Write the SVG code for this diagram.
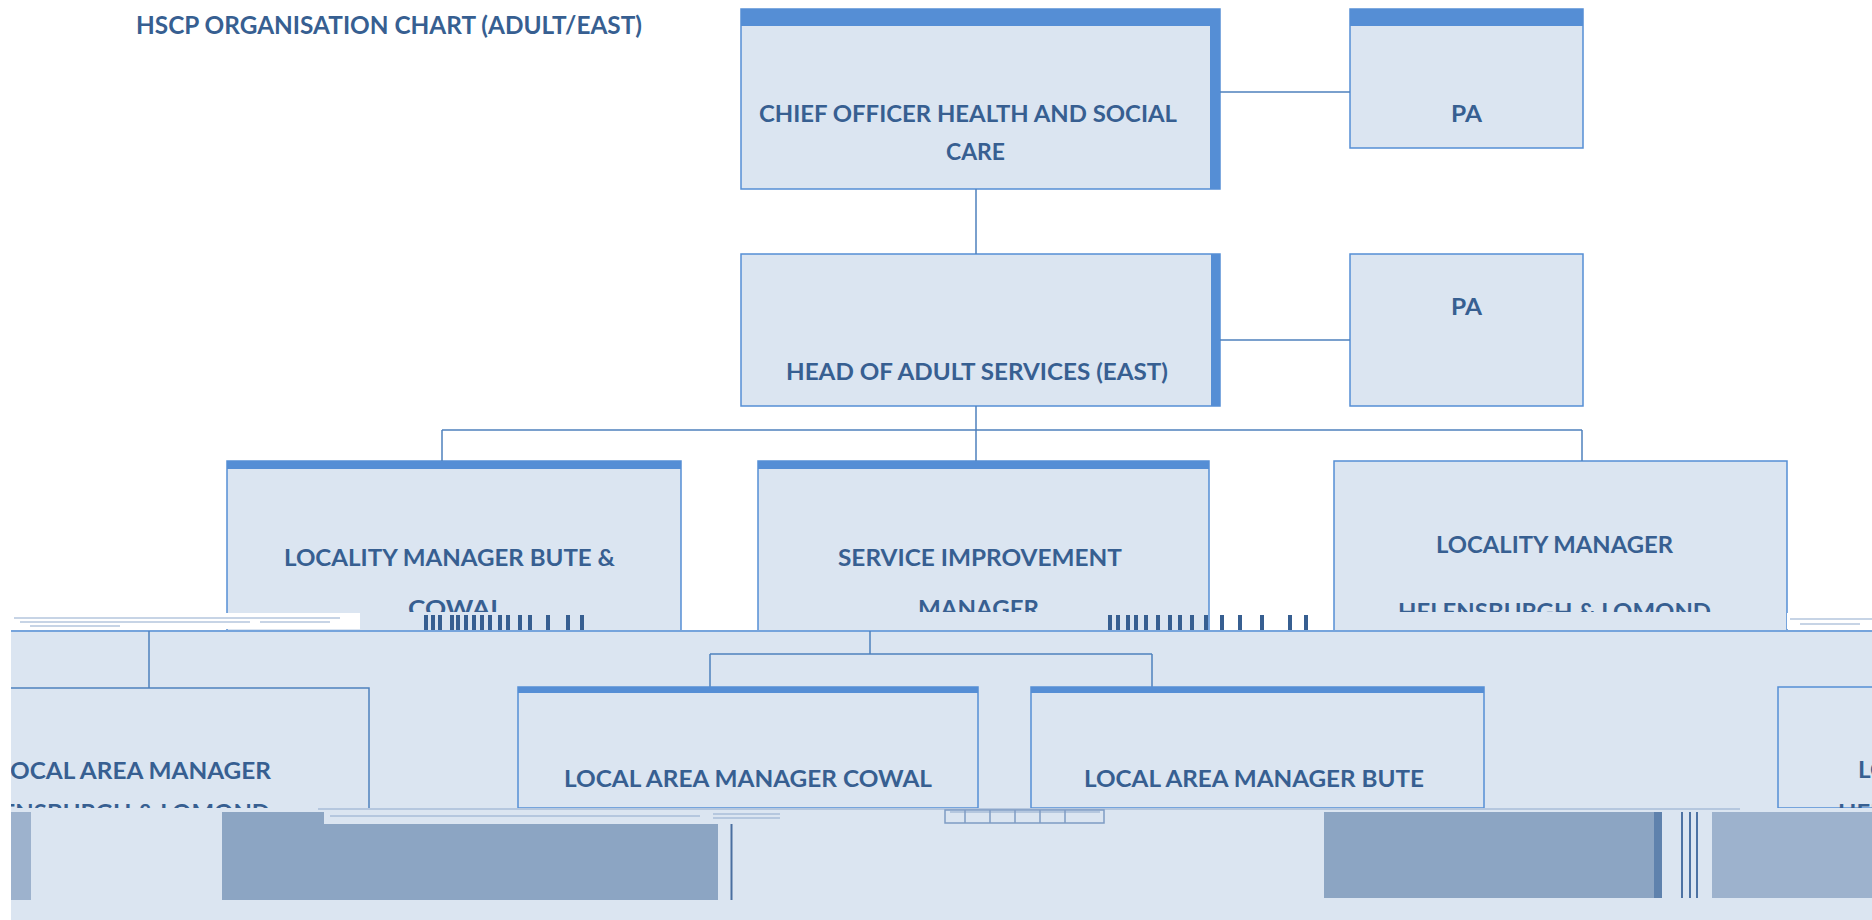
<svg xmlns="http://www.w3.org/2000/svg" width="1872" height="920" viewBox="0 0 1872 920">
<defs>
<style>
.box{fill:#dbe5f1;stroke:#558ed5;stroke-width:1.5}
.bar{fill:#558ed5}
.t{font-family:Lato,'Liberation Sans',sans-serif;font-weight:700;font-size:23px;fill:#375f91}
.title{font-family:Lato,'Liberation Sans',sans-serif;font-weight:700;font-size:25px;fill:#375f91}
.con{fill:none;stroke:#4f81bd;stroke-width:1.5}
.dark{fill:#8ca5c3}
.light{fill:#9db2cd}
.noise{fill:none;stroke:#8fa9cc;stroke-width:1}
</style>
<clipPath id="row1"><rect x="0" y="0" width="1872" height="612"/></clipPath>
<clipPath id="row2"><rect x="11" y="0" width="1861" height="810"/></clipPath>
</defs>
<rect x="0" y="0" width="1872" height="920" fill="#ffffff"/>
<text class="title" x="136" y="34" textLength="506" lengthAdjust="spacingAndGlyphs">HSCP ORGANISATION CHART (ADULT/EAST)</text>

<g id="chief">
<rect class="box" x="741" y="9" width="479" height="180"/>
<rect class="bar" x="741" y="9" width="479" height="17"/>
<rect class="bar" x="1210" y="9" width="10" height="180"/>
<text class="t" x="759" y="122" textLength="418" lengthAdjust="spacingAndGlyphs">CHIEF OFFICER HEALTH AND SOCIAL</text>
<text class="t" x="946" y="160" textLength="59" lengthAdjust="spacingAndGlyphs">CARE</text>
</g>
<g id="pa1">
<rect class="box" x="1350" y="9" width="233" height="139"/>
<rect class="bar" x="1350" y="9" width="233" height="17"/>
<text class="t" x="1451" y="122" textLength="31" lengthAdjust="spacingAndGlyphs">PA</text>
</g>
<g id="head">
<rect class="box" x="741" y="254" width="479" height="152"/>
<rect class="bar" x="1211" y="254" width="9" height="152"/>
<text class="t" x="786" y="380" textLength="382" lengthAdjust="spacingAndGlyphs">HEAD OF ADULT SERVICES (EAST)</text>
</g>
<g id="pa2">
<rect class="box" x="1350" y="254" width="233" height="152"/>
<text class="t" x="1451" y="315" textLength="31" lengthAdjust="spacingAndGlyphs">PA</text>
</g>
<g id="locality-bute-cowal">
<rect class="box" x="227" y="461" width="454" height="170"/>
<rect class="bar" x="227" y="461" width="454" height="8"/>
<text class="t" x="284" y="566" textLength="331" lengthAdjust="spacingAndGlyphs">LOCALITY MANAGER BUTE &amp;</text>
<text class="t" x="408" y="617" textLength="96" lengthAdjust="spacingAndGlyphs" clip-path="url(#row1)">COWAL</text>
</g>
<g id="service-improvement">
<rect class="box" x="758" y="461" width="451" height="170"/>
<rect class="bar" x="758" y="461" width="451" height="8"/>
<text class="t" x="838" y="566" textLength="284" lengthAdjust="spacingAndGlyphs">SERVICE IMPROVEMENT</text>
<text class="t" x="918" y="617" textLength="121" lengthAdjust="spacingAndGlyphs" clip-path="url(#row1)">MANAGER</text>
</g>
<g id="locality-helensburgh">
<rect class="box" x="1334" y="461" width="453" height="170"/>
<text class="t" x="1436" y="553" textLength="237" lengthAdjust="spacingAndGlyphs">LOCALITY MANAGER</text>
<text class="t" x="1398" y="620" textLength="313" lengthAdjust="spacingAndGlyphs" clip-path="url(#row1)">HELENSBURGH &amp; LOMOND</text>
</g>

<g id="glitch-upper">
<rect x="11" y="613" width="349" height="16" fill="#ffffff"/>
<path class="noise" d="M14 618 H340 M20 622 H250 M260 622 H330 M30 626 H120"/>
<rect x="1787" y="613" width="85" height="16" fill="#ffffff"/>
<path class="noise" d="M1790 619 H1872 M1800 624 H1860"/>
<path d="M426 615 V631 M433 615 V631 M440 615 V631 M452 615 V631 M458 615 V631 M466 615 V631 M474 615 V631 M482 615 V631 M490 615 V631 M500 615 V631 M508 615 V631 M520 615 V631 M530 615 V631 M548 615 V631 M568 615 V631 M582 615 V631" stroke="#375f91" stroke-width="4" fill="none"/>
<path d="M1110 615 V631 M1118 615 V631 M1128 615 V631 M1136 615 V631 M1146 615 V631 M1158 615 V631 M1170 615 V631 M1180 615 V631 M1192 615 V631 M1206 615 V631 M1222 615 V631 M1240 615 V631 M1262 615 V631 M1290 615 V631 M1306 615 V631" stroke="#375f91" stroke-width="4" fill="none"/>
</g>

<rect id="lower-area" x="11" y="630" width="1861" height="290" fill="#dbe5f1"/>
<line x1="11" y1="631" x2="1872" y2="631" stroke="#558ed5" stroke-width="1.5"/>

<g id="connectors">
<path class="con" d="M976 189 V254 M1220 92 H1350 M1220 340 H1350 M976 406 V430 M442 430 H1582 M442 430 V461 M976 430 V461 M1582 430 V461 M149 631 V688 M870 631 V654 M710 654 H1152 M710 654 V687 M1152 654 V687"/>
</g>

<g id="local-helensburgh">
<rect x="11" y="688" width="358" height="120" fill="#dbe5f1"/>
<path class="con" d="M11 688 H369 V808" stroke="#558ed5"/>
<g clip-path="url(#row2)">
<text class="t" x="-2" y="779" textLength="273" lengthAdjust="spacingAndGlyphs">LOCAL AREA MANAGER</text>
<text class="t" x="-43" y="821" textLength="313" lengthAdjust="spacingAndGlyphs">HELENSBURGH &amp; LOMOND</text>
</g>
</g>
<g id="local-cowal">
<rect class="box" x="518" y="687" width="460" height="121"/>
<rect class="bar" x="518" y="687" width="460" height="6"/>
<text class="t" x="564" y="787" textLength="368" lengthAdjust="spacingAndGlyphs">LOCAL AREA MANAGER COWAL</text>
</g>
<g id="local-bute">
<rect class="box" x="1031" y="687" width="453" height="121"/>
<rect class="bar" x="1031" y="687" width="453" height="6"/>
<text class="t" x="1084" y="787" textLength="340" lengthAdjust="spacingAndGlyphs">LOCAL AREA MANAGER BUTE</text>
</g>
<g id="local-right">
<rect class="box" x="1778" y="687" width="120" height="121"/>
<g clip-path="url(#row2)">
<text class="t" x="1858" y="778" textLength="273" lengthAdjust="spacingAndGlyphs">LOCAL AREA MANAGER</text>
<text class="t" x="1838" y="821" textLength="313" lengthAdjust="spacingAndGlyphs">HELENSBURGH &amp; LOMOND</text>
</g>
</g>

<g id="glitch-lower">
<rect x="11" y="808" width="1861" height="4" fill="#dbe5f1"/>
<path class="noise" d="M318 809 H1740 M330 816 H700 M713 814 H780 M713 818 H780 M950 812 H1100"/>
<path d="M945 810 h159 v13 h-159 z M965 810 v13 M990 810 v13 M1015 810 v13 M1040 810 v13 M1065 810 v13" fill="none" stroke="#7f9cc4" stroke-width="1.5"/>
<rect x="11" y="812" width="20" height="88" class="light"/>
<rect x="222" y="812" width="102" height="12" class="dark"/>
<rect x="222" y="824" width="496" height="76" class="dark"/>
<line x1="731.5" y1="824" x2="731.5" y2="900" stroke="#4a6fa0" stroke-width="2"/>
<rect x="1324" y="812" width="330" height="86" class="dark"/>
<rect x="1654" y="812" width="8" height="86" fill="#5f82ad"/>
<path d="M1682 812 V898 M1690 812 V898 M1697 812 V898" stroke="#4d72a3" stroke-width="2" fill="none"/>
<rect x="1712" y="812" width="160" height="86" class="light"/>
</g>
</svg>
